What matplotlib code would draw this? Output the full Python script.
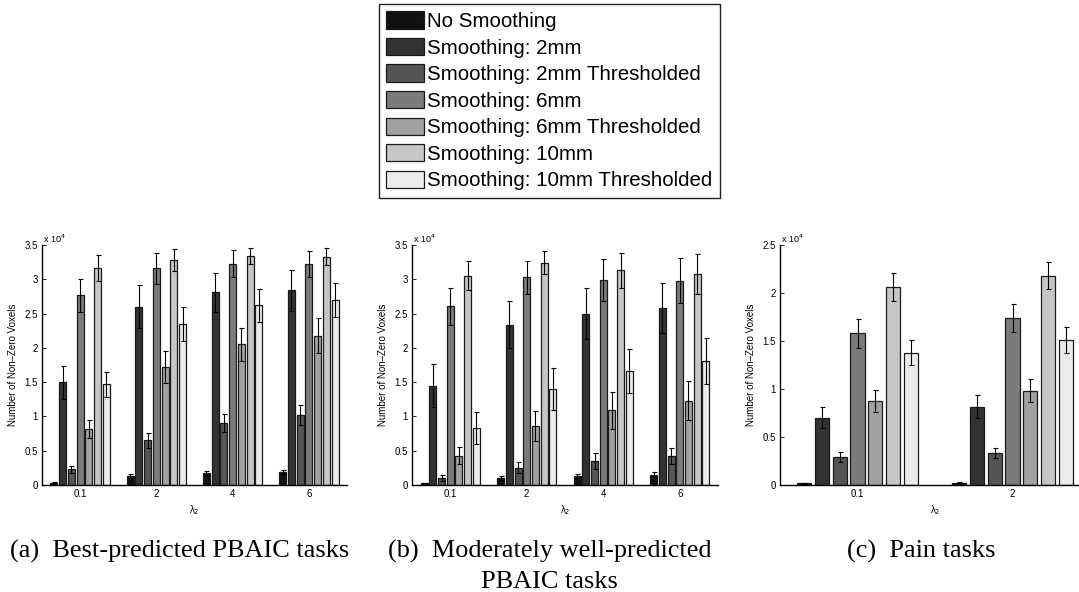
import numpy as np
import matplotlib
matplotlib.use("Agg")
import matplotlib.pyplot as plt
from matplotlib.patches import Patch

plt.rcParams['font.family'] = ['Liberation Sans', 'DejaVu Sans']

series = ["No Smoothing", "Smoothing: 2mm", "Smoothing: 2mm Thresholded",
          "Smoothing: 6mm", "Smoothing: 6mm Thresholded",
          "Smoothing: 10mm", "Smoothing: 10mm Thresholded"]
colors = ['#111111', '#333333', '#555555', '#7b7b7b', '#a1a1a1', '#c6c6c6', '#ebebeb']

# values in units of 1e4, one row per lambda_2 group, one column per series
lam_ab = ["0.1", "2", "4", "6"]
best_mean = [[0.03, 1.50, 0.23, 2.77, 0.82, 3.16, 1.47],
             [0.13, 2.60, 0.655, 3.16, 1.72, 3.28, 2.35],
             [0.17, 2.81, 0.90, 3.23, 2.05, 3.34, 2.62],
             [0.185, 2.84, 1.02, 3.22, 2.18, 3.33, 2.70]]
best_err = [[0.01, 0.24, 0.05, 0.24, 0.13, 0.19, 0.18],
            [0.03, 0.31, 0.11, 0.23, 0.23, 0.16, 0.25],
            [0.03, 0.28, 0.13, 0.19, 0.24, 0.12, 0.24],
            [0.03, 0.30, 0.14, 0.19, 0.25, 0.12, 0.25]]

mod_mean = [[0.025, 1.45, 0.10, 2.61, 0.43, 3.05, 0.83],
            [0.10, 2.34, 0.25, 3.03, 0.86, 3.24, 1.40],
            [0.13, 2.50, 0.35, 2.99, 1.09, 3.13, 1.66],
            [0.15, 2.58, 0.42, 2.98, 1.23, 3.08, 1.81]]
mod_err = [[0.01, 0.31, 0.04, 0.27, 0.13, 0.21, 0.23],
           [0.03, 0.34, 0.08, 0.24, 0.22, 0.17, 0.30],
           [0.03, 0.37, 0.11, 0.31, 0.27, 0.26, 0.32],
           [0.035, 0.37, 0.12, 0.33, 0.28, 0.29, 0.33]]

lam_c = ["0.1", "2"]
pain_mean = [[0.02, 0.70, 0.29, 1.58, 0.875, 2.06, 1.38],
             [0.025, 0.815, 0.335, 1.74, 0.98, 2.18, 1.51]]
pain_err = [[0.005, 0.11, 0.05, 0.15, 0.11, 0.145, 0.135],
            [0.005, 0.12, 0.055, 0.145, 0.12, 0.14, 0.14]]


def bar_panel(ax, labels, mean, err, ymax):
    mean = np.array(mean)
    err = np.array(err)
    ng, ns = mean.shape
    x = np.arange(1, ng + 1)
    slot = 0.8 / ns
    for j in range(ns):
        xj = x - 0.4 + slot * (j + 0.5)
        ax.bar(xj, mean[:, j], width=slot * 0.8, color=colors[j],
               edgecolor='#1a1a1a', linewidth=0.9, zorder=2)
        ax.errorbar(xj, mean[:, j], yerr=err[:, j], fmt='none', ecolor='black',
                    elinewidth=0.8, capsize=1.8, capthick=0.8, zorder=3)
    ax.set_xlim(0.5, ng + 0.5)
    ax.set_ylim(0, ymax)
    ax.set_xticks(x)
    ax.set_xticklabels(labels)
    ax.set_yticks(np.arange(0, ymax + 0.01, 0.5))
    ax.set_yticklabels(['%g' % v for v in np.arange(0, ymax + 0.01, 0.5)])
    ax.tick_params(direction='in', length=3, width=0.6, labelsize=7, pad=3)
    ax.spines['top'].set_visible(False)
    ax.spines['right'].set_visible(False)
    ax.spines['left'].set_linewidth(1.0)
    ax.spines['bottom'].set_linewidth(1.0)
    ax.set_xlabel('\u03bb$_2$', fontsize=7, labelpad=3)
    ax.set_ylabel('Number of Non\u2013Zero Voxels', fontsize=7, labelpad=5)
    ax.text(0.004, 1.0, 'x 10$^{4}$', transform=ax.transAxes, fontsize=6.5,
            ha='left', va='bottom')


fig = plt.figure(figsize=(10.79, 5.92), dpi=100)
W, H = 1079.0, 592.0
ax1 = fig.add_axes([42 / W, 107 / H, 305 / W, 240 / H])
ax2 = fig.add_axes([412 / W, 107 / H, 306 / W, 240 / H])
ax3 = fig.add_axes([780 / W, 107 / H, 310 / W, 240 / H])
bar_panel(ax1, lam_ab, best_mean, best_err, 3.5)
bar_panel(ax2, lam_ab, mod_mean, mod_err, 3.5)
bar_panel(ax3, lam_c, pain_mean, pain_err, 2.5)

handles = [Patch(facecolor=c, edgecolor='#1a1a1a', linewidth=0.9) for c in colors]
leg = fig.legend(handles, series, loc='upper left', bbox_to_anchor=(379 / W, 1 - 4 / H),
                 fontsize=14.8, handlelength=1.85, handleheight=0.92, handletextpad=0.12,
                 labelspacing=0.33, borderpad=0.36, borderaxespad=0, fancybox=False,
                 framealpha=1)
leg.get_frame().set_edgecolor('#222222')
leg.get_frame().set_linewidth(1.0)

serif = ['Liberation Serif', 'DejaVu Serif']
fig.text(180 / W, 1 - 558 / H, '(a)  Best-predicted PBAIC tasks', family=serif,
         fontsize=18.9, ha='center', va='baseline')
fig.text(550 / W, 1 - 558 / H, '(b)  Moderately well-predicted', family=serif,
         fontsize=18.9, ha='center', va='baseline')
fig.text(549 / W, 1 - 588 / H, 'PBAIC tasks', family=serif,
         fontsize=18.9, ha='center', va='baseline')
fig.text(921 / W, 1 - 558 / H, '(c)  Pain tasks', family=serif,
         fontsize=18.9, ha='center', va='baseline')

fig.savefig('out.png', dpi=100)
